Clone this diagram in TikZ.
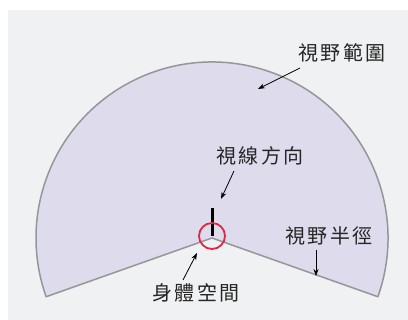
\documentclass[tikz,border=0pt]{standalone}
\usepackage{fontspec}
\newfontfamily\cjk[LetterSpace=12]{Noto Sans CJK TC}
\usetikzlibrary{arrows.meta}
\definecolor{bgray}{RGB}{240,241,242}
\definecolor{lav}{RGB}{221,219,236}
\definecolor{edgegray}{RGB}{150,150,152}
\definecolor{ringred}{RGB}{222,40,70}
\tikzset{
  lbl/.style={font=\cjk\fontsize{20}{24}\selectfont, inner sep=0pt, text=black!85},
  pointer/.style={draw=black, line width=0.8pt, -{Stealth[length=7pt,width=5pt]}},
}
\begin{document}
\begin{tikzpicture}[x=1pt,y=1pt]
\useasboundingbox (0,0) rectangle (408,320);
\fill[white] (0,0) rectangle (408,320);
\fill[bgray] (8,0) rectangle (408,310);
\coordinate (C) at (212,82);
\filldraw[fill=lav, draw=edgegray, line width=1.5pt, line join=round]
  (C) -- ++(-19.5:176) arc[start angle=-19.5, end angle=199.5, radius=176] -- cycle;
\draw[black, line width=3pt] (212,84) -- (212,112);
\node[draw=ringred, line width=1.8pt, circle, minimum size=26pt, inner sep=0pt] (ring) at (212,84) {};
\node[lbl] (range) at (342,267) {視野範圍};
\node[lbl] (dir) at (260,164) {視線方向};
\node[lbl] (rad) at (329,84) {視野半徑};
\node[lbl] (body) at (196,27) {身體空間};
\coordinate (a1s) at (300,252); \coordinate (a1e) at (258,231);
\coordinate (a2s) at (234,149); \coordinate (a2e) at (221,121);
\coordinate (a3s) at (316,70);  \coordinate (a3e) at (316,44);
\coordinate (a4s) at (183,40);  \coordinate (a4e) at (197,67);
\draw[pointer] (a1s) -- (a1e);
\draw[pointer] (a2s) -- (a2e);
\draw[pointer] (a3s) -- (a3e);
\draw[pointer] (a4s) -- (a4e);
\end{tikzpicture}
\end{document}
